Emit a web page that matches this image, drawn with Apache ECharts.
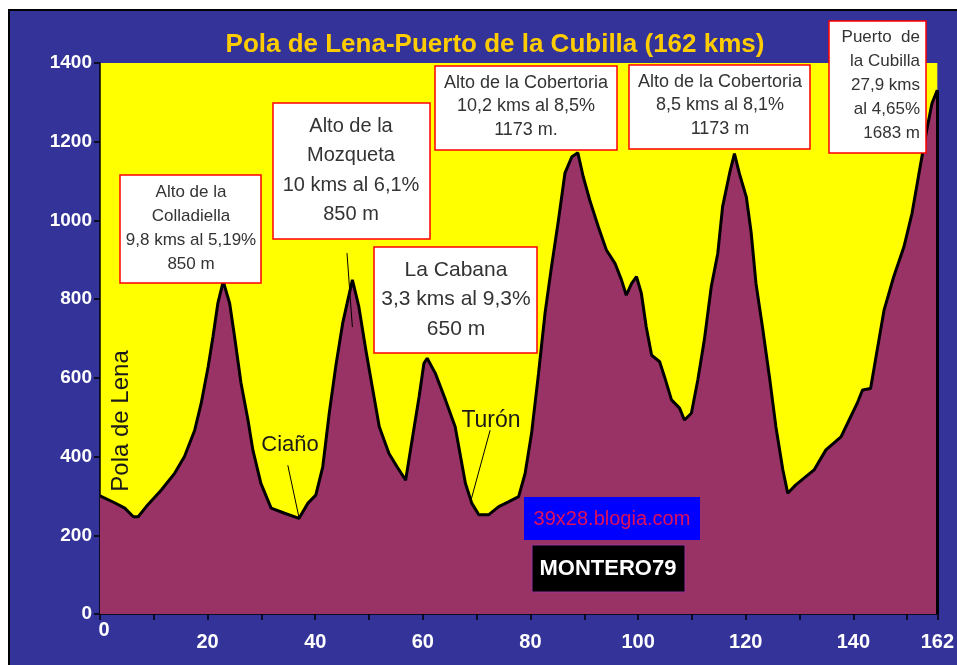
<!DOCTYPE html>
<html>
<head>
<meta charset="utf-8">
<title>Pola de Lena-Puerto de la Cubilla</title>
<script src="https://cdn.jsdelivr.net/npm/echarts@6/dist/echarts.min.js"></script>
<style>
  html, body { margin: 0; padding: 0; background: #fff; }
  #chart { width: 957px; height: 665px; }
</style>
</head>
<body>
<div id="chart"></div>
<script>
// perfil: km recorridos y altitud (m)
var distKm = [0, 2.8, 4.6, 6.2, 7.1, 8.6, 11.4, 13.9, 15.7, 17.6,
  18.8, 20.1, 21.0, 21.9, 22.9, 24.1, 25.0, 26.2, 27.5, 28.4,
  29.9, 31.8, 34.3, 37.0, 38.6, 40.1, 41.4, 42.6, 43.8, 45.1,
  46.9, 48.1, 49.4, 50.6, 51.9, 53.7, 55.2, 56.8, 58.0, 59.3,
  60.2, 60.8, 62.3, 64.2, 66.0, 67.0, 67.9, 69.1, 70.4, 72.2,
  74.1, 75.9, 77.8, 79.0, 80.2, 81.5, 82.7, 83.9, 85.2, 86.4,
  87.7, 88.8, 89.8, 91.0, 92.6, 94.1, 95.7, 96.9, 97.8, 98.8,
  99.7, 100.6, 101.5, 102.5, 104.0, 104.9, 106.2, 107.7, 108.6, 109.9,
  111.1, 112.3, 113.6, 114.8, 115.7, 117.0, 117.9, 118.8, 120.1, 121.0,
  121.9, 123.1, 124.4, 125.6, 126.9, 127.8, 129.3, 132.7, 134.9, 137.7,
  138.9, 140.7, 141.7, 143.2, 144.1, 145.7, 147.5, 149.4, 150.9, 152.2,
  153.4, 154.6, 155.6];

var elevM = [300, 282, 269, 247, 247, 273, 315, 358, 400, 467,
  535, 628, 705, 789, 845, 789, 705, 587, 493, 417,
  332, 269, 256, 243, 281, 302, 374, 510, 628, 739,
  849, 781, 671, 577, 476, 408, 374, 340, 442, 552,
  637, 650, 612, 544, 476, 400, 332, 281, 252, 252,
  273, 285, 298, 357, 459, 612, 764, 882, 1001, 1120,
  1162, 1172, 1111, 1052, 984, 925, 891, 849, 810, 840,
  857, 815, 730, 658, 641, 603, 544, 523, 493, 510,
  595, 696, 832, 916, 1035, 1120, 1170, 1120, 1060, 970,
  840, 730, 603, 476, 366, 307, 328, 366, 417, 450,
  484, 535, 569, 573, 645, 772, 857, 933, 1018, 1120,
  1213, 1297, 1331];

// ejes
var yTicks = [0, 200, 400, 600, 800, 1000, 1200, 1400];
var xLabelEvery = 20;
var routeKm = 162;   // texto de la ultima etiqueta
var xEnd = distKm[distKm.length - 1];

// lineas guia de los rotulos (km, m)
var leaderCiano = [[34.9, 378], [37.0, 244]];
var leaderTuron = [[72.5, 467], [68.8, 282]];
var leaderMozqueta = [[45.9, 917], [46.9, 729]];

var profile = distKm.map(function (d, i) { return [d, elevM[i]]; });

var chart = echarts.init(document.getElementById('chart'));

function box(x, y, w, h, lines, size, cx, y0, step, align) {
  var els = [{
    type: 'rect', z: 100,
    shape: { x: x, y: y, width: w, height: h },
    style: { fill: '#fff', stroke: '#ff0000', lineWidth: 1.5 }
  }];
  lines.forEach(function (t, i) {
    els.push({
      type: 'text', z: 101,
      x: cx, y: y0 + i * step,
      style: {
        text: t, fill: '#333', font: size + 'px "Liberation Sans", Arial, sans-serif',
        align: align || 'center', verticalAlign: 'middle'
      }
    });
  });
  return els;
}

var graphics = [].concat(
  [
    { type: 'rect', z: 50, shape: { x: 0, y: 0, width: 957, height: 9 }, style: { fill: '#fff' } },
    { type: 'rect', z: 50, shape: { x: 0, y: 0, width: 8, height: 665 }, style: { fill: '#fff' } },
    { type: 'line', z: 51, shape: { x1: 8, y1: 10, x2: 957, y2: 10 }, style: { stroke: '#000', lineWidth: 2 } },
    { type: 'line', z: 51, shape: { x1: 9, y1: 9, x2: 9, y2: 665 }, style: { stroke: '#000', lineWidth: 2 } }
  ],
  box(120, 175, 141, 108, ['Alto de la', 'Colladiella', '9,8 kms al 5,19%', '850 m'], 17, 191, 192, 24),
  box(273, 103, 157, 136, ['Alto de la', 'Mozqueta', '10 kms al 6,1%', '850 m'], 20, 351, 126, 29.5),
  box(374, 247, 163, 106, ['La Cabana', '3,3 kms al 9,3%', '650 m'], 21, 456, 270, 29.5),
  box(435, 66, 182, 84, ['Alto de la Cobertoria', '10,2 kms al 8,5%', '1173 m.'], 18, 526, 83, 23.5),
  box(629, 65, 181, 84, ['Alto de la Cobertoria', '8,5 kms al 8,1%', '1173 m'], 18, 720, 82, 23.5),
  box(829, 21, 97, 132, ['Puerto  de', 'la Cubilla', '27,9 kms', 'al 4,65%', '1683 m'], 17, 920, 37, 24, 'right'),
  [
    {
      type: 'text', z: 101, x: 290, y: 445,
      style: { text: 'Ciaño', fill: '#1a1a1a', font: '22px "Liberation Sans", Arial, sans-serif', align: 'center', verticalAlign: 'middle' }
    },
    {
      type: 'text', z: 101, x: 491, y: 421,
      style: { text: 'Turón', fill: '#1a1a1a', font: '23px "Liberation Sans", Arial, sans-serif', align: 'center', verticalAlign: 'middle' }
    },
    {
      type: 'text', z: 101, x: 121, y: 421, rotation: Math.PI / 2,
      style: { text: 'Pola de Lena', fill: '#1a1a1a', font: '24px "Liberation Sans", Arial, sans-serif', align: 'center', verticalAlign: 'middle' }
    },
    { type: 'rect', z: 100, shape: { x: 524, y: 497, width: 176, height: 43 }, style: { fill: '#0000ff' } },
    {
      type: 'text', z: 101, x: 612, y: 519,
      style: { text: '39x28.blogia.com', fill: '#e0105a', font: '20px "Liberation Sans", Arial, sans-serif', align: 'center', verticalAlign: 'middle' }
    },
    { type: 'rect', z: 100, shape: { x: 532, y: 545, width: 153, height: 47 }, style: { fill: '#000', stroke: '#993399', lineWidth: 1 } },
    {
      type: 'text', z: 101, x: 608, y: 569,
      style: { text: 'MONTERO79', fill: '#fff', font: 'bold 22px "Liberation Sans", Arial, sans-serif', align: 'center', verticalAlign: 'middle' }
    }
  ]
);

function seg(p) { return [{ coord: p[0] }, { coord: p[1] }]; }

var option = {
  backgroundColor: '#333399',
  animation: false,
  title: {
    text: 'Pola de Lena-Puerto de la Cubilla (' + routeKm + ' kms)',
    left: 490, top: 27, textAlign: 'center',
    textStyle: { color: '#ffcc00', fontSize: 26, fontWeight: 'bold', fontFamily: '"Liberation Sans", Arial, sans-serif' }
  },
  grid: {
    left: 100, right: 15, top: 63, bottom: 51,
    show: true, backgroundColor: '#ffff00', borderWidth: 0
  },
  xAxis: {
    type: 'value', min: 0, max: xEnd, interval: 10,
    splitLine: { show: false },
    axisLine: { lineStyle: { color: '#000', width: 1.5 } },
    axisTick: { length: 6, lineStyle: { color: '#000', width: 1.5 } },
    axisLabel: {
      showMinLabel: true, showMaxLabel: true, margin: 6,
      color: '#fff', fontSize: 20, fontWeight: 'bold', fontFamily: '"Liberation Sans", Arial, sans-serif',
      formatter: function (v) {
        if (Math.abs(v - xEnd) < 0.01) return '{n|' + routeKm + '}';
        if (v === 0) return '{z|0}';
        if (v % xLabelEvery === 0) return '{n|' + v + '}';
        return '';
      },
      rich: {
        n: { padding: [12, 0, 0, 0], color: '#fff', fontSize: 20, fontWeight: 'bold' },
        z: { padding: [0, 0, 0, 8], color: '#fff', fontSize: 20, fontWeight: 'bold' }
      }
    }
  },
  yAxis: {
    type: 'value', min: yTicks[0], max: yTicks[yTicks.length - 1], interval: yTicks[1] - yTicks[0],
    splitLine: { show: false },
    axisLine: { show: true, lineStyle: { color: '#000', width: 1.5 } },
    axisTick: { show: true, length: 6, lineStyle: { color: '#000', width: 1.5 } },
    axisLabel: {
      color: '#fff', fontSize: 19, fontWeight: 'bold', margin: 8, fontFamily: '"Liberation Sans", Arial, sans-serif',
      formatter: function (v) { return String(v); }
    }
  },
  series: [{
    type: 'line',
    data: profile,
    symbol: 'none',
    lineStyle: { color: '#000', width: 3 },
    areaStyle: { color: '#993366', opacity: 1 },
    markLine: {
      silent: true, symbol: 'none', label: { show: false },
      lineStyle: { color: '#000', width: 1, type: 'solid' },
      data: [
        seg(leaderCiano), seg(leaderTuron), seg(leaderMozqueta),
        [{ coord: [xEnd, 0], lineStyle: { width: 3 } }, { coord: [xEnd, elevM[elevM.length - 1]] }]
      ]
    }
  }],
  graphic: graphics
};

chart.setOption(option);
</script>
</body>
</html>
